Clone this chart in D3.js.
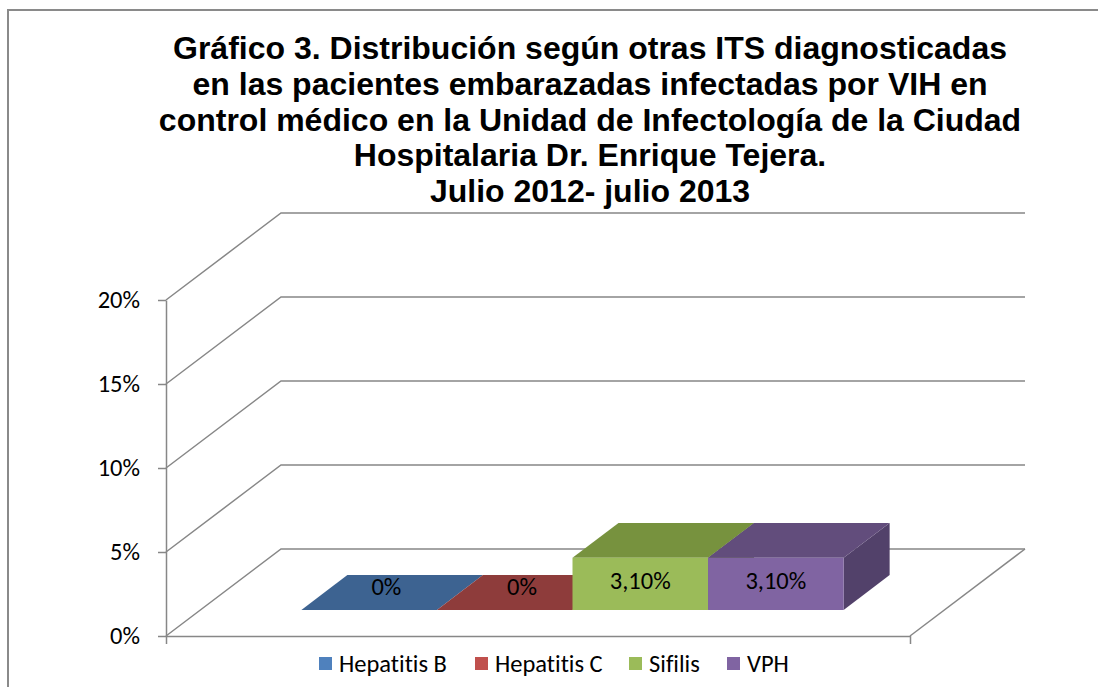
<!DOCTYPE html>
<html>
<head>
<meta charset="utf-8">
<script src="https://cdn.jsdelivr.net/npm/d3@7"></script>
<style>
  html, body { margin: 0; padding: 0; background: #fff; }
  svg text { font-family: Carlito, Calibri, Lato, "Open Sans", sans-serif; font-variant-ligatures: none; }
  .title text { font-family: "Liberation Sans", Arial, sans-serif; font-weight: bold; }
</style>
</head>
<body>
<div id="canvas"></div>
<script>
const titleLines = [
  'Gráfico 3. Distribución según otras ITS diagnosticadas',
  'en las pacientes embarazadas infectadas por VIH en',
  'control médico en la Unidad de Infectología de la Ciudad',
  'Hospitalaria Dr. Enrique Tejera.',
  'Julio 2012- julio 2013'
];
const series = ['Hepatitis B', 'Hepatitis C', 'Sifilis', 'VPH'];
const values = [0, 0, 3.1, 3.1];
const valueLabels = ['0%', '0%', '3,10%', '3,10%'];
const yTicks = [0, 5, 10, 15, 20];
const frontColors = ['#4f81bd', '#c0504d', '#9bbb59', '#8064a2'];
const topColors = ['#3d6391', '#8e3c3b', '#77923e', '#624d7c'];
const sideColors = ['#335378', '#763231', '#637a33', '#52416a'];

const W = 1098, H = 687;
const plotLeft = 166, plotRight = 910, plotBottom = 636, plotTop = 300;
const DX = 115, DY = 87;          // depth offset of the back wall
const d0 = 0.3, d1 = 0.7;         // depth range taken by the bars
const gridColor = '#878787';
const fontSize = 24.5;

const svg = d3.select('#canvas').append('svg')
    .attr('width', W)
    .attr('height', H);

// outer frame (only top and left visible)
svg.append('path')
    .attr('d', `M8,${H} L8,10 L${W},10`)
    .attr('fill', 'none')
    .attr('stroke', '#8a8a8a')
    .attr('stroke-width', 2);

const y = d3.scaleLinear().domain([0, 20]).range([plotBottom, plotTop]);

const xCat = d3.scaleBand()
    .domain(['all'])
    .range([plotLeft, plotRight])
    .paddingOuter(0.186)
    .paddingInner(0);

const xSer = d3.scaleBand()
    .domain(series)
    .range([xCat('all'), xCat('all') + xCat.bandwidth()]);

const P = (x, v, d) => [x + d * DX, y(v) - d * DY];

// back wall gridlines
const grid = svg.append('g');
yTicks.forEach(t => {
  const a = P(plotLeft, t, 0), b = P(plotLeft, t, 1), c = P(plotRight, t, 1);
  grid.append('path')
      .attr('d', d3.line()([a, b, c]))
      .attr('fill', 'none')
      .attr('stroke', gridColor)
      .attr('stroke-width', 1.5);
});

// floor right edge
grid.append('path')
    .attr('d', d3.line()([P(plotRight, 0, 0), P(plotRight, 0, 1)]))
    .attr('stroke', gridColor)
    .attr('stroke-width', 1.5);

// bars
const bars = svg.append('g');
const poly = pts => 'M' + pts.map(p => p.join(',')).join('L') + 'Z';
series.forEach((s, i) => {
  const x0 = xSer(s), x1 = x0 + xSer.bandwidth(), v = values[i];
  if (v > 0) {
    bars.append('path')
        .attr('d', poly([P(x1, 0, d0), P(x1, 0, d1), P(x1, v, d1), P(x1, v, d0)]))
        .attr('fill', sideColors[i]);
  }
  bars.append('path')
      .attr('d', poly([P(x0, v, d0), P(x1, v, d0), P(x1, v, d1), P(x0, v, d1)]))
      .attr('fill', topColors[i]);
  if (v > 0) {
    bars.append('path')
        .attr('d', poly([P(x0, 0, d0), P(x1, 0, d0), P(x1, v, d0), P(x0, v, d0)]))
        .attr('fill', frontColors[i]);
  }
});

// value labels
series.forEach((s, i) => {
  const cx = xSer(s) + xSer.bandwidth() / 2, v = values[i];
  let px, py;
  if (v > 0) {
    [px, py] = P(cx, v / 2, d0);
    py -= 3;
  } else {
    [px, py] = P(cx, 0, 0.45);
    py -= 10;
  }
  bars.append('text')
      .attr('x', px)
      .attr('y', py)
      .attr('dy', '0.35em')
      .attr('text-anchor', 'middle')
      .attr('font-size', fontSize)
      .attr('fill', '#000')
      .text(valueLabels[i]);
});

// value axis
const yAxis = d3.axisLeft(y)
    .tickValues(yTicks)
    .tickFormat(d => d + '%')
    .tickSize(8)
    .tickSizeOuter(0)
    .tickPadding(18);

const ya = svg.append('g')
    .attr('transform', `translate(${plotLeft},0)`)
    .call(yAxis);
ya.selectAll('path, line').attr('stroke', gridColor).attr('stroke-width', 1.5);
ya.selectAll('text').attr('font-size', fontSize).attr('fill', '#000')
    .style('font-family', 'Carlito, Calibri, Lato, sans-serif');

// category axis (front floor edge)
const xa = svg.append('g')
    .attr('transform', `translate(0,${plotBottom})`)
    .call(d3.axisBottom(d3.scaleLinear().domain([0, 1]).range([plotLeft, plotRight]))
      .tickValues([0, 1]).tickFormat('').tickSize(8).tickSizeOuter(0));
xa.selectAll('path, line').attr('stroke', gridColor).attr('stroke-width', 1.5);

// title
const title = svg.append('g').attr('class', 'title');
title.selectAll('text')
    .data(titleLines)
    .enter()
    .append('text')
    .attr('x', 590)
    .attr('y', (d, i) => 59 + i * 35.75)
    .attr('text-anchor', 'middle')
    .attr('font-size', 32)
    .attr('fill', '#000')
    .text(d => d);

// legend
const legendX = [319, 475, 629, 727];
const legend = svg.append('g');
series.forEach((s, i) => {
  const g = legend.append('g').attr('transform', `translate(${legendX[i]},657)`);
  g.append('rect')
      .attr('width', 13)
      .attr('height', 13)
      .attr('fill', frontColors[i]);
  g.append('text')
      .attr('x', 20)
      .attr('y', 6.5)
      .attr('dy', '0.35em')
      .attr('font-size', fontSize)
      .attr('fill', '#000')
      .text(s);
});
</script>
</body>
</html>
